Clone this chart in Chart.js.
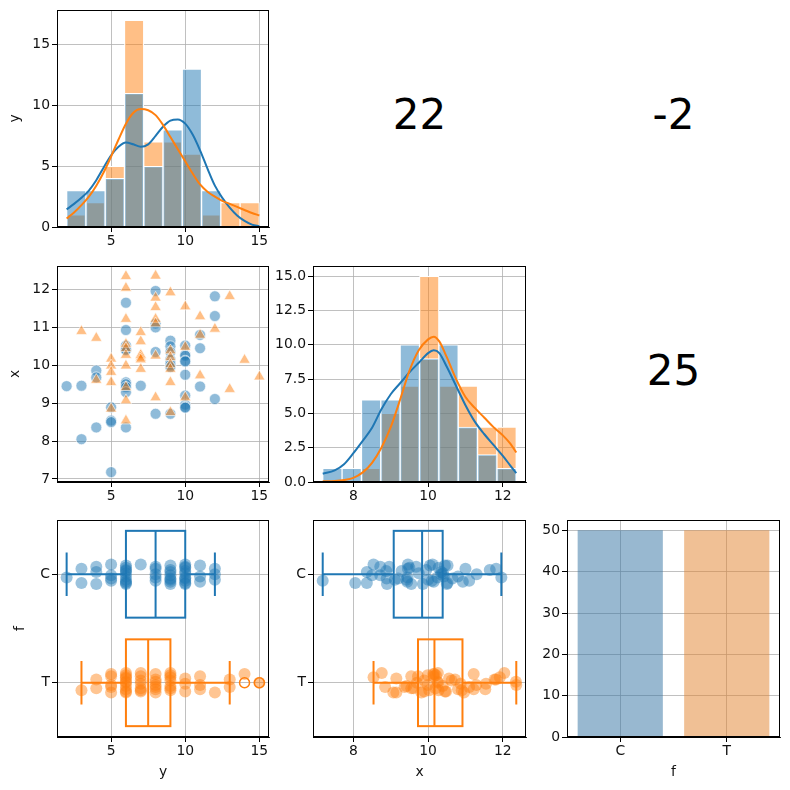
<!DOCTYPE html>
<html>
<head>
<meta charset="utf-8">
<script src="https://cdn.jsdelivr.net/npm/chart.js@4.4.1/dist/chart.umd.min.js"></script>
<style>
  html, body { margin: 0; padding: 0; background: #fff; }
  #fig { position: relative; width: 790px; height: 790px; overflow: hidden; }
  .panel { position: absolute; }
  .stat {
    position: absolute; display: flex; align-items: center; justify-content: center;
    font-family: 'DejaVu Sans', sans-serif; font-size: 42px; color: #000;
  }
  .stat span { transform: translateY(-4px); }
</style>
</head>
<body>
<div id="fig"></div>
<script>
// ---- values ----
const groups = ['C', 'T'];

// one entry per observation, y and x paired by index
const yC = [2, 3, 3, 4, 4, 4, 5, 5, 5, 5,
  6, 6, 6, 6, 6, 6, 6, 6, 6, 6,
  7, 8, 8, 8, 8, 8,
  9, 9, 9, 9, 9, 9, 9, 9,
  10, 10, 10, 10, 10, 10, 10, 10, 10, 10,
  11, 11, 11, 12, 12, 12];
const xC = [9.45, 9.46, 8.05, 8.36, 9.86, 9.68, 8.89, 8.54, 8.5, 7.18,
  11.65, 10.93, 10.52, 10.42, 10.4, 9.55, 9.5, 9.42, 9.29, 8.36,
  9.46, 11.96, 11.1, 11.0, 10.35, 8.72,
  10.65, 10.5, 10.35, 10.15, 10.05, 10.0, 9.95, 8.72,
  10.52, 10.28, 10.25, 10.12, 10.1, 9.75, 9.2, 8.96, 8.9, 8.88,
  10.8, 10.45, 9.44, 11.82, 11.3, 9.11];
const yT = [3, 4, 4, 5, 5, 5, 5, 5,
  6, 6, 6, 6, 6, 6, 6, 6, 6, 6,
  7, 7, 7, 7, 7, 7, 7,
  8, 8, 8, 8, 8, 8, 8,
  9, 9, 9, 9, 9, 9, 9,
  10, 10, 10, 11, 11, 11, 12, 13, 13, 14, 15];
const xT = [10.9, 10.72, 9.61, 10.17, 9.99, 9.82, 9.55, 8.85,
  12.35, 12.04, 11.22, 10.56, 10.45, 10.27, 9.99, 9.42, 9.07, 8.54,
  10.87, 10.63, 10.28, 10.26, 10.2, 10.15, 9.9,
  12.36, 11.78, 11.53, 11.22, 11.1, 10.25, 9.15,
  11.92, 10.39, 10.21, 10.03, 9.9, 9.55, 8.76,
  11.55, 10.48, 9.15, 11.29, 10.8, 9.73, 10.96, 11.82, 9.37, 10.14, 9.7];

// histogram bins and counts
const yBinEdges = [2, 3.3, 4.6, 5.9, 7.2, 8.5, 9.8, 11.1, 12.4, 13.7, 15];
const yHistC = [3, 3, 4, 11, 5, 8, 13, 3, 0, 0];
const yHistT = [1, 2, 5, 17, 7, 7, 6, 1, 2, 2];
const xBinEdges = [7.18, 7.698, 8.216, 8.734, 9.252, 9.77, 10.288, 10.806, 11.324, 11.842, 12.36];
const xHistC = [1, 1, 6, 6, 10, 9, 10, 4, 2, 1];
const xHistT = [0, 0, 1, 5, 7, 15, 7, 7, 4, 4];

// density curves (in counts) read at these points
const yKdeAt = [2, 2.5, 3, 3.5, 4, 4.5, 5, 5.5, 6, 6.5, 7, 7.5, 8, 8.5, 9, 9.5, 10,
  10.5, 11, 11.5, 12, 12.5, 13, 13.5, 14, 14.5, 15];
const yKdeC = [1.45, 1.9, 2.4, 3.0, 3.85, 4.9, 5.9, 6.6, 6.95, 6.8, 6.6, 6.8, 7.5, 8.25, 8.75, 8.85, 8.5,
  7.6, 6.3, 4.8, 3.4, 2.4, 1.6, 0.95, 0.5, 0.2, 0.05];
const yKdeT = [0.7, 1.2, 1.8, 2.5, 3.4, 4.5, 5.8, 7.2, 8.5, 9.4, 9.7, 9.6, 9.2, 8.4, 7.4, 6.4, 5.4,
  4.4, 3.5, 2.9, 2.5, 2.15, 1.9, 1.65, 1.4, 1.15, 0.95];
const xKdeAt = [7.18, 7.5, 7.75, 8, 8.25, 8.5, 8.75, 9, 9.25, 9.5, 9.75, 10, 10.15, 10.3,
  10.5, 10.75, 11, 11.25, 11.5, 11.75, 12, 12.2, 12.36];
const xKdeC = [0.6, 0.85, 1.3, 2.1, 3.0, 3.95, 5.3, 6.4, 7.2, 8.0, 8.7, 9.4, 9.6, 9.4,
  8.4, 7.0, 5.6, 4.4, 3.5, 2.7, 1.9, 1.2, 0.65];
const xKdeT = [0.05, 0.08, 0.15, 0.3, 0.7, 1.4, 2.5, 4.0, 6.0, 8.1, 9.6, 10.4, 10.6, 10.25,
  9.1, 7.5, 6.2, 5.4, 4.7, 4.0, 3.4, 2.8, 2.15];

// box plots: [whisker low, q1, median, q3, whisker high]
const yBox = [[2, 6, 8, 10, 12], [3, 6, 7.5, 9, 13]];
const yOutliers = [[], [14, 15]];
const xBox = [[7.18, 9.08, 9.84, 10.39, 11.96], [8.54, 9.73, 10.17, 10.92, 12.36]];
const xOutliers = [[], []];

const countF = [50, 50];
const cornerValues = [22, -2, 25];

// tick labels
const countTicksY = [0, 5, 10, 15];
const countTicksX = [0, 2.5, 5, 7.5, 10, 12.5, 15];
const barTicks = [0, 10, 20, 30, 40, 50];
const yTicks = [5, 10, 15];
const xTicks = [8, 10, 12];
const xTicksScatter = [7, 8, 9, 10, 11, 12];

// ---- look ----
const BLUE = '31,119,180', ORANGE = '255,127,14';
const lineCol = ['rgb(' + BLUE + ')', 'rgb(' + ORANGE + ')'];
const jitterC = [0.03, -0.05, 0.08, -0.02, 0.09, -0.07, 0.04, -0.09, 0.01, 0.06,
  -0.04, 0.07, -0.08, 0.02, -0.01, 0.09, -0.06, 0.05, -0.03, 0.08,
  -0.09, 0.03, 0.06, -0.05, 0.0, -0.07, 0.04, 0.09, -0.02, 0.07,
  -0.08, 0.05, -0.04, 0.01, 0.08, -0.06, 0.03, -0.09, 0.06, -0.01,
  0.04, -0.07, 0.09, -0.03, 0.02, -0.08, 0.07, -0.05, 0.0, 0.05];
const jitterT = [0.07, -0.03, 0.05, -0.08, 0.02, 0.09, -0.06, 0.04, -0.01, -0.09,
  0.06, -0.04, 0.08, 0.0, -0.07, 0.03, 0.09, -0.05, 0.01, -0.02,
  0.07, -0.09, 0.05, -0.06, 0.08, 0.02, -0.03, 0.06, -0.08, 0.04,
  -0.01, 0.09, -0.05, 0.03, -0.07, 0.07, -0.02, 0.05, -0.09, 0.01,
  0.08, -0.04, 0.02, 0.06, -0.06, 0.09, -0.03, 0.04, -0.08, 0.0];

Chart.defaults.font.family = "'DejaVu Sans', sans-serif";
Chart.defaults.font.size = 13.9;
Chart.defaults.color = '#111';

const fig = document.getElementById('fig');
const L = 50, T = 14, R = 8;

// axes boxes in page pixels: [left, top, right, bottom]
const COLS = [[57, 269], [313, 526], [567, 780]];
const ROWS = [[10, 227], [266, 482], [520, 737]];
const box = (r, c) => [COLS[c][0], ROWS[r][0], COLS[c][1], ROWS[r][1]];

function addPanel(b, bottom) {
  const div = document.createElement('div');
  div.className = 'panel';
  div.style.left = (b[0] - L) + 'px';
  div.style.top = (b[1] - T) + 'px';
  div.style.width = (b[2] - b[0] + L + R) + 'px';
  div.style.height = (b[3] - b[1] + T + bottom) + 'px';
  const c = document.createElement('canvas');
  div.appendChild(c);
  fig.appendChild(div);
  return c;
}

const gridOpts = () => ({
  color: '#b0b0b0', lineWidth: 0.8, tickColor: '#000', tickLength: 5, tickWidth: 1, offset: false,
});

function axis(position, min, max, ticks, fit, extra) {
  return Object.assign({
    type: 'linear', position, min, max, offset: false,
    grid: gridOpts(),
    border: { color: '#000', width: 1 },
    ticks: { padding: position === 'left' ? 2 : 1, autoSkip: false, maxRotation: 0 },
    afterBuildTicks: s => { s.ticks = ticks.map(v => ({ value: v })); },
    afterFit: s => { if (position === 'left') s.width = fit; else s.height = fit; },
  }, extra || {});
}

const title = (text, pos, pad) => ({
  display: true, text, color: '#111',
  padding: pos === 'left' ? { top: pad, bottom: 0 } : { top: 0, bottom: pad },
});

// full black frame round each axes
Chart.register({
  id: 'frame',
  afterDatasetsDraw(chart) {
    const a = chart.chartArea, ctx = chart.ctx;
    ctx.save();
    ctx.strokeStyle = '#000';
    ctx.lineWidth = 1;
    ctx.strokeRect(Math.round(a.left) + 0.5, Math.round(a.top) + 0.5,
      Math.round(a.right - a.left) - 1, Math.round(a.bottom - a.top) - 1);
    ctx.restore();
  },
});

const base = () => ({
  responsive: true, maintainAspectRatio: false, animation: false,
  layout: { padding: { left: 0, top: T, right: R, bottom: 0 } },
  plugins: { legend: { display: false }, tooltip: { enabled: false } },
});

const centres = edges => edges.slice(0, -1).map((e, i) => (e + edges[i + 1]) / 2);

function histDatasets(edges, hC, hT, kAt, kC, kT) {
  const mid = centres(edges);
  const bar = (h, col, order) => ({
    type: 'bar', data: mid.map((m, i) => ({ x: m, y: h[i] })),
    backgroundColor: 'rgba(' + col + ',0.5)', borderColor: '#fff', borderWidth: 1,
    grouped: false, barPercentage: 1, categoryPercentage: 1, order,
  });
  const kde = (k, col, order) => ({
    type: 'line', data: kAt.map((v, i) => ({ x: v, y: k[i] })),
    borderColor: 'rgb(' + col + ')', borderWidth: 2, pointRadius: 0,
    cubicInterpolationMode: 'monotone', fill: false, order,
  });
  return [bar(hC, BLUE, 2), bar(hT, ORANGE, 3), kde(kC, BLUE, 1), kde(kT, ORANGE, 0)];
}

// --- y histogram (row 0, col 0)
new Chart(addPanel(box(0, 0), 30), {
  type: 'bar',
  data: { datasets: histDatasets(yBinEdges, yHistC, yHistT, yKdeAt, yKdeC, yKdeT) },
  options: Object.assign(base(), {
    scales: {
      x: axis('bottom', 1.35, 15.65, yTicks, 30),
      y: axis('left', 0, 17.85, countTicksY, L, { title: title('y', 'left', 0) }),
    },
  }),
});

// --- scatter y vs x (row 1, col 0)
new Chart(addPanel(box(1, 0), 30), {
  type: 'scatter',
  data: {
    datasets: [
      {
        data: yT.map((v, i) => ({ x: v, y: xT[i] })), pointStyle: 'triangle', pointRadius: 6.5,
        backgroundColor: 'rgba(' + ORANGE + ',0.5)', borderColor: 'rgba(255,255,255,0.6)', borderWidth: 1, order: 0,
      },
      {
        data: yC.map((v, i) => ({ x: v, y: xC[i] })), pointStyle: 'circle', pointRadius: 5.5,
        backgroundColor: 'rgba(' + BLUE + ',0.5)', borderColor: 'rgba(255,255,255,0.6)', borderWidth: 1, order: 1,
      },
    ],
  },
  options: Object.assign(base(), {
    scales: {
      x: axis('bottom', 1.35, 15.65, yTicks, 30),
      y: axis('left', 6.92, 12.62, xTicksScatter, L, { title: title('x', 'left', 0) }),
    },
  }),
});

// --- x histogram (row 1, col 1)
new Chart(addPanel(box(1, 1), 30), {
  type: 'bar',
  data: { datasets: histDatasets(xBinEdges, xHistC, xHistT, xKdeAt, xKdeC, xKdeT) },
  options: Object.assign(base(), {
    scales: {
      x: axis('bottom', 6.92, 12.62, xTicks, 30),
      y: axis('left', 0, 15.75, countTicksX, L, {
        ticks: { padding: 2, autoSkip: false, callback: v => v.toFixed(1) },
      }),
    },
  }),
});

// --- box + strip plots (row 2)
function boxPlugin(stats, id) {
  return {
    id,
    beforeDatasetsDraw(chart) {
      const { ctx, scales: { x, y } } = chart;
      const px = v => x.getPixelForValue(v);
      stats.forEach((s, i) => {
        const [lo, q1, med, q3, hi] = s;
        const yc = y.getPixelForValue(i);
        const yt = y.getPixelForValue(i - 0.4), yb = y.getPixelForValue(i + 0.4);
        const ct = y.getPixelForValue(i - 0.2), cb = y.getPixelForValue(i + 0.2);
        ctx.save();
        ctx.strokeStyle = lineCol[i];
        ctx.lineWidth = 2;
        ctx.strokeRect(px(q1), yt, px(q3) - px(q1), yb - yt);
        ctx.beginPath();
        ctx.moveTo(px(med), yt); ctx.lineTo(px(med), yb);
        ctx.moveTo(px(lo), yc); ctx.lineTo(px(q1), yc);
        ctx.moveTo(px(q3), yc); ctx.lineTo(px(hi), yc);
        ctx.moveTo(px(lo), ct); ctx.lineTo(px(lo), cb);
        ctx.moveTo(px(hi), ct); ctx.lineTo(px(hi), cb);
        ctx.stroke();
        ctx.restore();
      });
    },
  };
}

function stripDatasets(vC, vT, outs) {
  const ds = [
    {
      data: vC.map((v, i) => ({ x: v, y: 0 + jitterC[i] })), pointRadius: 6, borderWidth: 0,
      backgroundColor: 'rgba(' + BLUE + ',0.45)',
    },
    {
      data: vT.map((v, i) => ({ x: v, y: 1 + jitterT[i] })), pointRadius: 6, borderWidth: 0,
      backgroundColor: 'rgba(' + ORANGE + ',0.45)',
    },
  ];
  outs.forEach((o, i) => {
    if (!o.length) return;
    ds.push({
      data: o.map(v => ({ x: v, y: i })), pointRadius: 5, borderWidth: 1.5,
      backgroundColor: 'rgba(0,0,0,0)', borderColor: lineCol[i],
    });
  });
  return ds;
}

const catAxis = (withTitle) => axis('left', -0.5, 1.5, [0, 1], L, {
  reverse: true,
  ticks: { padding: 2, autoSkip: false, callback: v => groups[v] },
  title: withTitle ? title('f', 'left', 5) : { display: false },
});

new Chart(addPanel(box(2, 0), 52), {
  type: 'scatter',
  data: { datasets: stripDatasets(yC, yT, yOutliers) },
  options: Object.assign(base(), {
    scales: {
      x: axis('bottom', 1.35, 15.65, yTicks, 52, { title: title('y', 'bottom', 8) }),
      y: catAxis(true),
    },
  }),
  plugins: [boxPlugin(yBox, 'boxY')],
});

new Chart(addPanel(box(2, 1), 52), {
  type: 'scatter',
  data: { datasets: stripDatasets(xC, xT, xOutliers) },
  options: Object.assign(base(), {
    scales: {
      x: axis('bottom', 6.92, 12.62, xTicks, 52, { title: title('x', 'bottom', 8) }),
      y: catAxis(false),
    },
  }),
  plugins: [boxPlugin(xBox, 'boxX')],
});

// --- count bars (row 2, col 2)
new Chart(addPanel(box(2, 2), 52), {
  type: 'bar',
  data: {
    labels: groups,
    datasets: [{
      data: countF,
      backgroundColor: ['rgba(50,114,161,0.5)', 'rgba(225,129,44,0.5)'],
      borderWidth: 0, barPercentage: 0.8, categoryPercentage: 1,
    }],
  },
  options: Object.assign(base(), {
    scales: {
      x: {
        type: 'category', position: 'bottom', offset: true,
        grid: gridOpts(),
        border: { color: '#000', width: 1 },
        ticks: { padding: 1 },
        title: title('f', 'bottom', 8),
        afterFit: s => { s.height = 52; },
      },
      y: axis('left', 0, 52.5, barTicks, L),
    },
  }),
});

// --- numbers in the upper corner cells
[[0, 1], [0, 2], [1, 2]].forEach(([r, c], i) => {
  const b = box(r, c);
  const d = document.createElement('div');
  d.className = 'stat';
  d.style.left = b[0] + 'px';
  d.style.top = b[1] + 'px';
  d.style.width = (b[2] - b[0]) + 'px';
  d.style.height = (b[3] - b[1]) + 'px';
  const s = document.createElement('span');
  s.textContent = String(cornerValues[i]);
  d.appendChild(s);
  fig.appendChild(d);
});
</script>
</body>
</html>
